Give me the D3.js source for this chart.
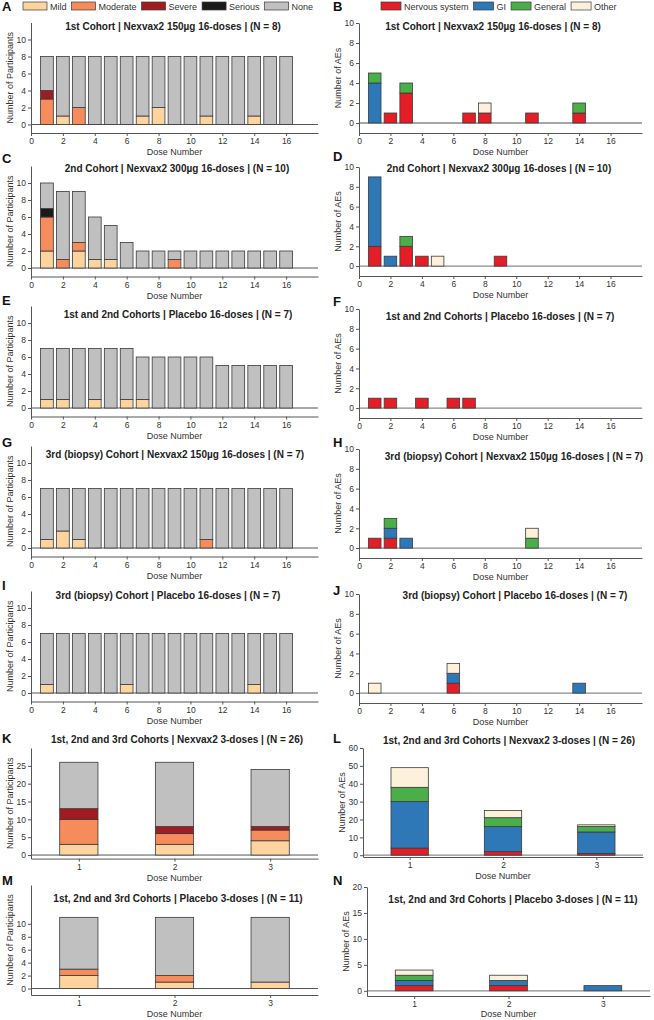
<!DOCTYPE html>
<html>
<head>
<meta charset="utf-8">
<script src="https://cdnjs.cloudflare.com/ajax/libs/d3/7.8.5/d3.min.js"></script>
<style>
  body { margin: 0; background: #fff; }
  svg { font-family: "Liberation Sans", Arial, sans-serif; }
  .axis path, .axis line { stroke: #555; }
  .axis text { fill: #333; font-size: 8.5px; font-family: "Liberation Sans", Arial, sans-serif; }
</style>
</head>
<body>
<div id="chart"></div>
<script>
// categories
var sevKeys = ["Mild", "Moderate", "Severe", "Serious", "None"];
var aeKeys = ["Nervous system", "GI", "General", "Other"];
var sevColors = ["#fdd49e", "#f68b5c", "#a01c20", "#1a1a1a", "#c0c0c0"];
var aeColors = ["#e41e26", "#2e78b7", "#4aaf49", "#fdf1dc"];

var doses16 = [1, 2, 3, 4, 5, 6, 7, 8, 9, 10, 11, 12, 13, 14, 15, 16];
var doses3 = [1, 2, 3];

// A - 1st cohort, 150ug, participants by severity
var aMild     = [0, 1, 0, 0, 0, 0, 1, 2, 0, 0, 1, 0, 0, 1, 0, 0];
var aModerate = [3, 0, 2, 0, 0, 0, 0, 0, 0, 0, 0, 0, 0, 0, 0, 0];
var aSevere   = [1, 0, 0, 0, 0, 0, 0, 0, 0, 0, 0, 0, 0, 0, 0, 0];
var aSerious  = [0, 0, 0, 0, 0, 0, 0, 0, 0, 0, 0, 0, 0, 0, 0, 0];
var aNone     = [4, 7, 6, 8, 8, 8, 7, 6, 8, 8, 7, 8, 8, 7, 8, 8];

// B - 1st cohort AEs
var bNervous = [0, 1, 3, 0, 0, 0, 1, 1, 0, 0, 1, 0, 0, 1, 0, 0];
var bGI      = [4, 0, 0, 0, 0, 0, 0, 0, 0, 0, 0, 0, 0, 0, 0, 0];
var bGeneral = [1, 0, 1, 0, 0, 0, 0, 0, 0, 0, 0, 0, 0, 1, 0, 0];
var bOther   = [0, 0, 0, 0, 0, 0, 0, 1, 0, 0, 0, 0, 0, 0, 0, 0];

// C - 2nd cohort, 300ug
var cMild     = [2, 0, 2, 1, 1, 0, 0, 0, 0, 0, 0, 0, 0, 0, 0, 0];
var cModerate = [4, 1, 1, 0, 0, 0, 0, 0, 1, 0, 0, 0, 0, 0, 0, 0];
var cSevere   = [0, 0, 0, 0, 0, 0, 0, 0, 0, 0, 0, 0, 0, 0, 0, 0];
var cSerious  = [1, 0, 0, 0, 0, 0, 0, 0, 0, 0, 0, 0, 0, 0, 0, 0];
var cNone     = [3, 8, 6, 5, 4, 3, 2, 2, 1, 2, 2, 2, 2, 2, 2, 2];

// D - 2nd cohort AEs
var dNervous = [2, 0, 2, 1, 0, 0, 0, 0, 1, 0, 0, 0, 0, 0, 0, 0];
var dGI      = [7, 1, 0, 0, 0, 0, 0, 0, 0, 0, 0, 0, 0, 0, 0, 0];
var dGeneral = [0, 0, 1, 0, 0, 0, 0, 0, 0, 0, 0, 0, 0, 0, 0, 0];
var dOther   = [0, 0, 0, 0, 1, 0, 0, 0, 0, 0, 0, 0, 0, 0, 0, 0];

// E - placebo 1st and 2nd
var eMild     = [1, 1, 0, 1, 0, 1, 1, 0, 0, 0, 0, 0, 0, 0, 0, 0];
var eModerate = [0, 0, 0, 0, 0, 0, 0, 0, 0, 0, 0, 0, 0, 0, 0, 0];
var eSevere   = [0, 0, 0, 0, 0, 0, 0, 0, 0, 0, 0, 0, 0, 0, 0, 0];
var eSerious  = [0, 0, 0, 0, 0, 0, 0, 0, 0, 0, 0, 0, 0, 0, 0, 0];
var eNone     = [6, 6, 7, 6, 7, 6, 5, 6, 6, 6, 6, 5, 5, 5, 5, 5];

// F
var fNervous = [1, 1, 0, 1, 0, 1, 1, 0, 0, 0, 0, 0, 0, 0, 0, 0];
var fGI      = [0, 0, 0, 0, 0, 0, 0, 0, 0, 0, 0, 0, 0, 0, 0, 0];
var fGeneral = [0, 0, 0, 0, 0, 0, 0, 0, 0, 0, 0, 0, 0, 0, 0, 0];
var fOther   = [0, 0, 0, 0, 0, 0, 0, 0, 0, 0, 0, 0, 0, 0, 0, 0];

// G - 3rd (biopsy) cohort 150ug
var gMild     = [1, 2, 1, 0, 0, 0, 0, 0, 0, 0, 0, 0, 0, 0, 0, 0];
var gModerate = [0, 0, 0, 0, 0, 0, 0, 0, 0, 0, 1, 0, 0, 0, 0, 0];
var gSevere   = [0, 0, 0, 0, 0, 0, 0, 0, 0, 0, 0, 0, 0, 0, 0, 0];
var gSerious  = [0, 0, 0, 0, 0, 0, 0, 0, 0, 0, 0, 0, 0, 0, 0, 0];
var gNone     = [6, 5, 6, 7, 7, 7, 7, 7, 7, 7, 6, 7, 7, 7, 7, 7];

// H
var hNervous = [1, 1, 0, 0, 0, 0, 0, 0, 0, 0, 0, 0, 0, 0, 0, 0];
var hGI      = [0, 1, 1, 0, 0, 0, 0, 0, 0, 0, 0, 0, 0, 0, 0, 0];
var hGeneral = [0, 1, 0, 0, 0, 0, 0, 0, 0, 0, 1, 0, 0, 0, 0, 0];
var hOther   = [0, 0, 0, 0, 0, 0, 0, 0, 0, 0, 1, 0, 0, 0, 0, 0];

// I - 3rd (biopsy) placebo
var iMild     = [1, 0, 0, 0, 0, 1, 0, 0, 0, 0, 0, 0, 0, 1, 0, 0];
var iModerate = [0, 0, 0, 0, 0, 0, 0, 0, 0, 0, 0, 0, 0, 0, 0, 0];
var iSevere   = [0, 0, 0, 0, 0, 0, 0, 0, 0, 0, 0, 0, 0, 0, 0, 0];
var iSerious  = [0, 0, 0, 0, 0, 0, 0, 0, 0, 0, 0, 0, 0, 0, 0, 0];
var iNone     = [6, 7, 7, 7, 7, 6, 7, 7, 7, 7, 7, 7, 7, 6, 7, 7];

// J
var jNervous = [0, 0, 0, 0, 0, 1, 0, 0, 0, 0, 0, 0, 0, 0, 0, 0];
var jGI      = [0, 0, 0, 0, 0, 1, 0, 0, 0, 0, 0, 0, 0, 1, 0, 0];
var jGeneral = [0, 0, 0, 0, 0, 0, 0, 0, 0, 0, 0, 0, 0, 0, 0, 0];
var jOther   = [1, 0, 0, 0, 0, 1, 0, 0, 0, 0, 0, 0, 0, 0, 0, 0];

// K - all cohorts Nexvax2, 3 doses
var kMild     = [3, 3, 4];
var kModerate = [7, 3, 3];
var kSevere   = [3, 2, 1];
var kSerious  = [0, 0, 0];
var kNone     = [13, 18, 16];

// L
var lNervous = [4, 2, 1];
var lGI      = [26, 14, 12];
var lGeneral = [8, 5, 3];
var lOther   = [11, 4, 1];

// M - all cohorts placebo, 3 doses
var mMild     = [2, 1, 1];
var mModerate = [1, 1, 0];
var mSevere   = [0, 0, 0];
var mSerious  = [0, 0, 0];
var mNone     = [8, 9, 10];

// N
var nNervous = [1, 1, 0];
var nGI      = [1, 1, 1];
var nGeneral = [1, 0, 0];
var nOther   = [1, 1, 0];

// tick values
var ticks16x = [0, 2, 4, 6, 8, 10, 12, 14, 16];
var ticks10 = [0, 2, 4, 6, 8, 10];
var ticksK = [0, 5, 10, 15, 20, 25];
var ticksL = [0, 10, 20, 30, 40, 50, 60];
var ticksN = [0, 5, 10, 15, 20];

var svg = d3.select("#chart").append("svg")
        .attr("width", 654)
        .attr("height", 1020);

var sev = { keys: sevKeys, colors: sevColors, ylab: "Number of Participants" };
var ae = { keys: aeKeys, colors: aeColors, ylab: "Number of AEs" };

var panels = [
  { id: "A", type: sev, doses: doses16, series: [aMild, aModerate, aSevere, aSerious, aNone],
    title: "1st Cohort | Nexvax2 150µg 16-doses | (N = 8)",
    xr: [31, 318], top: 22.5, bottom: 133, yDom: [-1, 12], yTicks: ticks10, tx: 173, ty: 29.5, ly: 11 },
  { id: "B", type: ae, doses: doses16, series: [bNervous, bGI, bGeneral, bOther],
    title: "1st Cohort | Nexvax2 150µg 16-doses | (N = 8)",
    xr: [359, 642], top: 23, bottom: 133, yDom: [-1, 10], yTicks: ticks10, tx: 493, ty: 29.5, ly: 11 },
  { id: "C", type: sev, doses: doses16, series: [cMild, cModerate, cSevere, cSerious, cNone],
    title: "2nd Cohort | Nexvax2 300µg 16-doses | (N = 10)",
    xr: [31, 318], top: 166, bottom: 276.5, yDom: [-1, 12], yTicks: ticks10, tx: 177, ty: 171.5, ly: 163 },
  { id: "D", type: ae, doses: doses16, series: [dNervous, dGI, dGeneral, dOther],
    title: "2nd Cohort | Nexvax2 300µg 16-doses | (N = 10)",
    xr: [359, 642], top: 167, bottom: 276, yDom: [-1, 10], yTicks: ticks10, tx: 499, ty: 171.5, ly: 161 },
  { id: "E", type: sev, doses: doses16, series: [eMild, eModerate, eSevere, eSerious, eNone],
    title: "1st and 2nd Cohorts | Placebo 16-doses | (N = 7)",
    xr: [31, 318], top: 306, bottom: 416.5, yDom: [-1, 12], yTicks: ticks10, tx: 178, ty: 317.5, ly: 305 },
  { id: "F", type: ae, doses: doses16, series: [fNervous, fGI, fGeneral, fOther],
    title: "1st and 2nd Cohorts | Placebo 16-doses | (N = 7)",
    xr: [359, 642], top: 309, bottom: 418, yDom: [-1, 10], yTicks: ticks10, tx: 500, ty: 319.5, ly: 306 },
  { id: "G", type: sev, doses: doses16, series: [gMild, gModerate, gSevere, gSerious, gNone],
    title: "3rd (biopsy) Cohort | Nexvax2 150µg 16-doses | (N = 7)",
    xr: [31, 318], top: 446, bottom: 556.5, yDom: [-1, 12], yTicks: ticks10, tx: 175, ty: 457.5, ly: 447 },
  { id: "H", type: ae, doses: doses16, series: [hNervous, hGI, hGeneral, hOther],
    title: "3rd (biopsy) Cohort | Nexvax2 150µg 16-doses | (N = 7)",
    xr: [359, 642], top: 449, bottom: 558, yDom: [-1, 10], yTicks: ticks10, tx: 514, ty: 459.5, ly: 447 },
  { id: "I", type: sev, doses: doses16, series: [iMild, iModerate, iSevere, iSerious, iNone],
    title: "3rd (biopsy) Cohort | Placebo 16-doses | (N = 7)",
    xr: [31, 318], top: 591, bottom: 701.5, yDom: [-1, 12], yTicks: ticks10, tx: 168, ty: 598.5, ly: 590 },
  { id: "J", type: ae, doses: doses16, series: [jNervous, jGI, jGeneral, jOther],
    title: "3rd (biopsy) Cohort | Placebo 16-doses | (N = 7)",
    xr: [359, 642], top: 594, bottom: 703, yDom: [-1, 10], yTicks: ticks10, tx: 515, ty: 598.5, ly: 595 },
  { id: "K", type: sev, doses: doses3, series: [kMild, kModerate, kSevere, kSerious, kNone],
    title: "1st, 2nd and 3rd Cohorts | Nexvax2 3-doses | (N = 26)",
    xr: [31, 318], top: 748, bottom: 858.6, yDom: [-1, 30], yTicks: ticksK, tx: 177, ty: 742.5, ly: 743 },
  { id: "L", type: ae, doses: doses3, series: [lNervous, lGI, lGeneral, lOther],
    title: "1st, 2nd and 3rd Cohorts | Nexvax2 3-doses | (N = 26)",
    xr: [363, 643], top: 748, bottom: 857, yDom: [-1, 60], yTicks: ticksL, tx: 509, ty: 743.5, ly: 743 },
  { id: "M", type: sev, doses: doses3, series: [mMild, mModerate, mSevere, mSerious, mNone],
    title: "1st, 2nd and 3rd Cohorts | Placebo 3-doses | (N = 11)",
    xr: [31, 318], top: 885, bottom: 995, yDom: [-1, 16], yTicks: ticks10, tx: 178, ty: 901.5, ly: 885 },
  { id: "N", type: ae, doses: doses3, series: [nNervous, nGI, nGeneral, nOther],
    title: "1st, 2nd and 3rd Cohorts | Placebo 3-doses | (N = 11)",
    xr: [367, 650], top: 887, bottom: 996, yDom: [-1, 20], yTicks: ticksN, tx: 513, ty: 902.5, ly: 885 }
];

panels.forEach(drawPanel);

function drawPanel(p) {
        var g = svg.append("g").attr("class", "panel-" + p.id);
        var is3 = p.doses.length === 3;
        var x = d3.scaleLinear()
                .domain(is3 ? [0.5, 3.5] : [0, 18])
                .range(p.xr);
        var y = d3.scaleLinear()
                .domain(p.yDom)
                .range([p.bottom, p.top]);
        var bw = is3 ? 0.4 : 0.8;

        var table = p.doses.map(function (d, i) {
                var row = { dose: d };
                p.type.keys.forEach(function (k, j) { row[k] = p.series[j][i]; });
                return row;
        });
        var stacked = d3.stack().keys(p.type.keys)(table);

        // zero line
        g.append("line")
                .attr("x1", p.xr[0]).attr("x2", p.xr[1])
                .attr("y1", y(0)).attr("y2", y(0))
                .attr("stroke", p.type === ae ? "#8a8a8a" : "#555")
                .attr("stroke-width", p.type === ae ? 1.3 : 1);

        var layers = g.selectAll(".layer")
                .data(stacked)
                .enter().append("g")
                .attr("class", "layer")
                .attr("fill", function (d, i) { return p.type.colors[i]; });

        layers.selectAll("rect")
                .data(function (d) { return d.filter(function (s) { return s[1] > s[0]; }); })
                .enter().append("rect")
                .attr("x", function (s) { return x(s.data.dose - bw / 2); })
                .attr("width", x(bw) - x(0))
                .attr("y", function (s) { return y(s[1]); })
                .attr("height", function (s) { return y(s[0]) - y(s[1]); })
                .attr("stroke", "#3a3a3a")
                .attr("stroke-width", 0.8);

        g.append("g")
                .attr("class", "axis")
                .attr("transform", "translate(0," + p.bottom + ")")
                .call(d3.axisBottom(x)
                        .tickValues(is3 ? p.doses : ticks16x)
                        .tickSize(3).tickSizeOuter(0).tickPadding(2)
                        .tickFormat(d3.format("d")));

        g.append("g")
                .attr("class", "axis")
                .attr("transform", "translate(" + p.xr[0] + ",0)")
                .call(d3.axisLeft(y)
                        .tickValues(p.yTicks)
                        .tickSize(3).tickSizeOuter(0).tickPadding(2));

        g.selectAll(".axis .domain").attr("stroke-width", 1);

        g.append("text")
                .attr("x", (p.xr[0] + p.xr[1]) / 2)
                .attr("y", Math.min(p.bottom + 22, 1017))
                .attr("text-anchor", "middle")
                .style("font-size", "9px")
                .attr("fill", "#333")
                .text("Dose Number");

        g.append("text")
                .attr("transform", "translate(" + (p.xr[0] - 18) + "," + ((p.top + p.bottom) / 2) + ") rotate(-90)")
                .attr("text-anchor", "middle")
                .style("font-size", "9px")
                .attr("fill", "#333")
                .text(p.type.ylab);

        g.append("text")
                .attr("x", p.tx)
                .attr("y", p.ty)
                .attr("text-anchor", "middle")
                .style("font-size", "10px")
                .style("font-weight", "bold")
                .attr("fill", "#222")
                .text(p.title);

        g.append("text")
                .attr("x", p.type === ae ? 333 : 2)
                .attr("y", p.ly)
                .style("font-size", "13px")
                .style("font-weight", "bold")
                .attr("fill", "#111")
                .text(p.id);
}

// legends
function drawLegend(keys, colors, x0, boxW) {
        var lx = x0;
        keys.forEach(function (k, i) {
                svg.append("rect")
                        .attr("x", lx).attr("y", 2)
                        .attr("width", boxW).attr("height", 8)
                        .attr("fill", colors[i])
                        .attr("stroke", "#3a3a3a")
                        .attr("stroke-width", 0.7);
                var t = svg.append("text")
                        .attr("x", lx + boxW + 3)
                        .attr("y", 9.5)
                        .style("font-size", "9px")
                        .attr("fill", "#333")
                        .text(k);
                lx = lx + boxW + 3 + t.node().getComputedTextLength() + 5;
        });
}
drawLegend(sevKeys, sevColors, 23, 24);
drawLegend(aeKeys, aeColors, 381, 20);
</script>
</body>
</html>
